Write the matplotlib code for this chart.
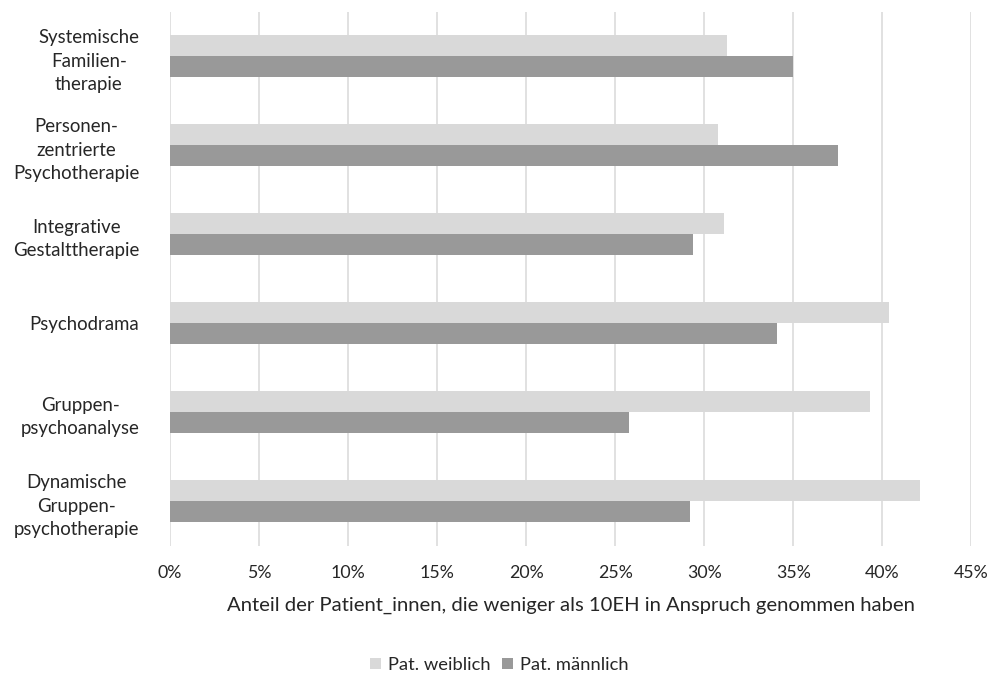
import matplotlib.pyplot as plt
from matplotlib.ticker import FuncFormatter
import numpy as np

CATEGORIES = [
    "Systemische\nFamilien-\ntherapie",
    "Personen-\nzentrierte\nPsychotherapie",
    "Integrative\nGestalttherapie",
    "Psychodrama",
    "Gruppen-\npsychoanalyse",
    "Dynamische\nGruppen-\npsychotherapie",
]

# share of patients below 10 units, in percent
WEIBLICH = [31.3, 30.8, 31.1, 40.4, 39.3, 42.1]
MAENNLICH = [35.0, 37.5, 29.4, 34.1, 25.8, 29.2]

X_TICKS = [0, 5, 10, 15, 20, 25, 30, 35, 40, 45]

TEXT = "#262626"
GRID = "#DEDEDE"

plt.rcParams["font.family"] = ["Lato", "DejaVu Sans"]

fig = plt.figure(figsize=(9.99, 6.77), dpi=100)
ax = fig.add_axes([0.1702, 0.1935, 0.802, 0.789])

y = np.arange(len(CATEGORIES))
h = 0.236
ax.barh(y - h / 2, WEIBLICH, height=h, color="#D9D9D9", label="Pat. weiblich", zorder=3)
ax.barh(y + h / 2, MAENNLICH, height=h, color="#999999", label="Pat. männlich", zorder=3)

ax.set_ylim(len(CATEGORIES) - 0.5, -0.5)
ax.set_xlim(0, 45)
ax.set_xticks(X_TICKS)
ax.xaxis.set_major_formatter(FuncFormatter(lambda v, _: f"{v:.0f}%"))
ax.set_yticks(y)
ax.set_yticklabels(CATEGORIES, ma="center", linespacing=1.45, fontsize=13.4)

ax.grid(axis="x", color=GRID, linewidth=1.3, zorder=0)
for s in ax.spines.values():
    s.set_visible(False)
ax.tick_params(axis="both", length=0, colors=TEXT)
ax.tick_params(axis="x", labelsize=12.8, pad=14)
ax.tick_params(axis="y", pad=22)

ax.set_xlabel("Anteil der Patient_innen, die weniger als 10EH in Anspruch genommen haben",
              fontsize=14.6, color=TEXT, labelpad=11)

fig.legend(loc="center", bbox_to_anchor=(0.5, 0.018), ncol=2, frameon=False,
           fontsize=13.2, labelcolor=TEXT, handlelength=0.6, handleheight=0.6,
           columnspacing=0.6, handletextpad=0.4)

plt.savefig("out.png", dpi=100)
